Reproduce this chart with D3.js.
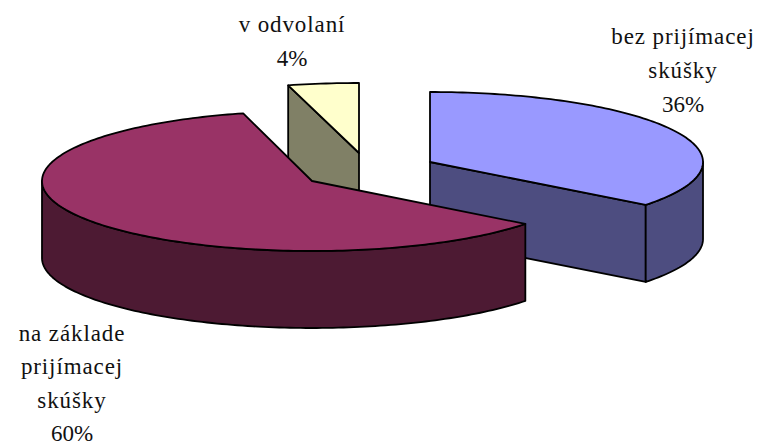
<!DOCTYPE html>
<html>
<head>
	<title>Pie</title>
	<meta charset="utf-8">
	<style>
		html, body { margin: 0; padding: 0; background: #fff; }
		svg { display: block; }
		text { font-family: "Liberation Serif", serif; font-size: 23px; fill: #111; text-anchor: middle; }
	</style>
</head>
<body>
<svg width="762" height="446"></svg>

<script src="https://d3js.org/d3.v7.min.js"></script>
<script>
	// drawn clockwise from 12 o'clock
	const categories = ['bez prijímacej skúšky', 'na základe prijímacej skúšky', 'v odvolaní'];
	const values = [35.5, 60.4, 4.1];
	const topColors = ['#9999ff', '#993366', '#ffffcc'];
	const sideColors = ['#4d4d80', '#4d1a33', '#808066'];
	const labelLines = [
		['bez prijímacej', 'skúšky', '36%'],
		['na základe', 'prijímacej', 'skúšky', '60%'],
		['v odvolaní', '4%']
	];

	// every slice is pulled out of the pie, so each one has its own centre
	const centers = [[430, 162], [312, 181], [359, 153]];
	const labelPos = [[683, 44], [72, 341], [292, 32]];
	const lineSteps = [33.8, 33.3, 33.8];
	const rx = [273, 270, 278];
	const ry = 70;
	const depth = 77;

	const svg = d3.select('svg');
	const line = d3.line();

	const arcs = d3.pie().sort(null).value(d => d)(values);

	const project = (i, a, drop = 0) => [
		centers[i][0] + rx[i] * Math.sin(a),
		centers[i][1] - ry * Math.cos(a) + drop
	];

	function arcPoints(i, from, to, drop = 0) {
		const n = Math.ceil(Math.abs(to - from) / 0.02);
		return d3.range(n + 1).map(k => project(i, from + (to - from) * k / n, drop));
	}

	function shape(points, fill) {
		svg.append('path')
			.attr('d', line(points) + 'Z')
			.attr('fill', fill)
			.attr('stroke', '#000')
			.attr('stroke-width', 1.8)
			.attr('stroke-linejoin', 'round');
	}

	function drawSlice(i) {
		const a0 = arcs[i].startAngle, a1 = arcs[i].endAngle;
		const c = centers[i];
		const side = sideColors[i];

		// cut faces: only the ones that face the viewer are seen
		if (i == 0) {
			shape([c, project(i, a1), project(i, a1, depth), [c[0], c[1] + depth]], side);
		}
		if (i == 2) {
			shape([c, project(i, a0), project(i, a0, depth), [c[0], c[1] + depth]], side);
		}

		// outer wall, only the part below the widest point of the ellipse
		const from = Math.max(a0, Math.PI / 2);
		const to = Math.min(a1, Math.PI * 1.5);
		if (from < to) {
			shape(arcPoints(i, from, to).concat(arcPoints(i, to, from, depth)), side);
		}

		// top face
		shape([c].concat(arcPoints(i, a0, a1)), topColors[i]);
	}

	// back to front
	[2, 0, 1].forEach(drawSlice);

	labelLines.forEach((lines, i) => {
		svg.append('g').selectAll('text')
			.data(lines)
			.join('text')
			.attr('x', labelPos[i][0])
			.attr('y', (d, k) => labelPos[i][1] + k * lineSteps[i])
			.attr('letter-spacing', d => d.endsWith('%') ? 0 : 0.9)
			.text(d => d);
	});
</script>
</body>
</html>
